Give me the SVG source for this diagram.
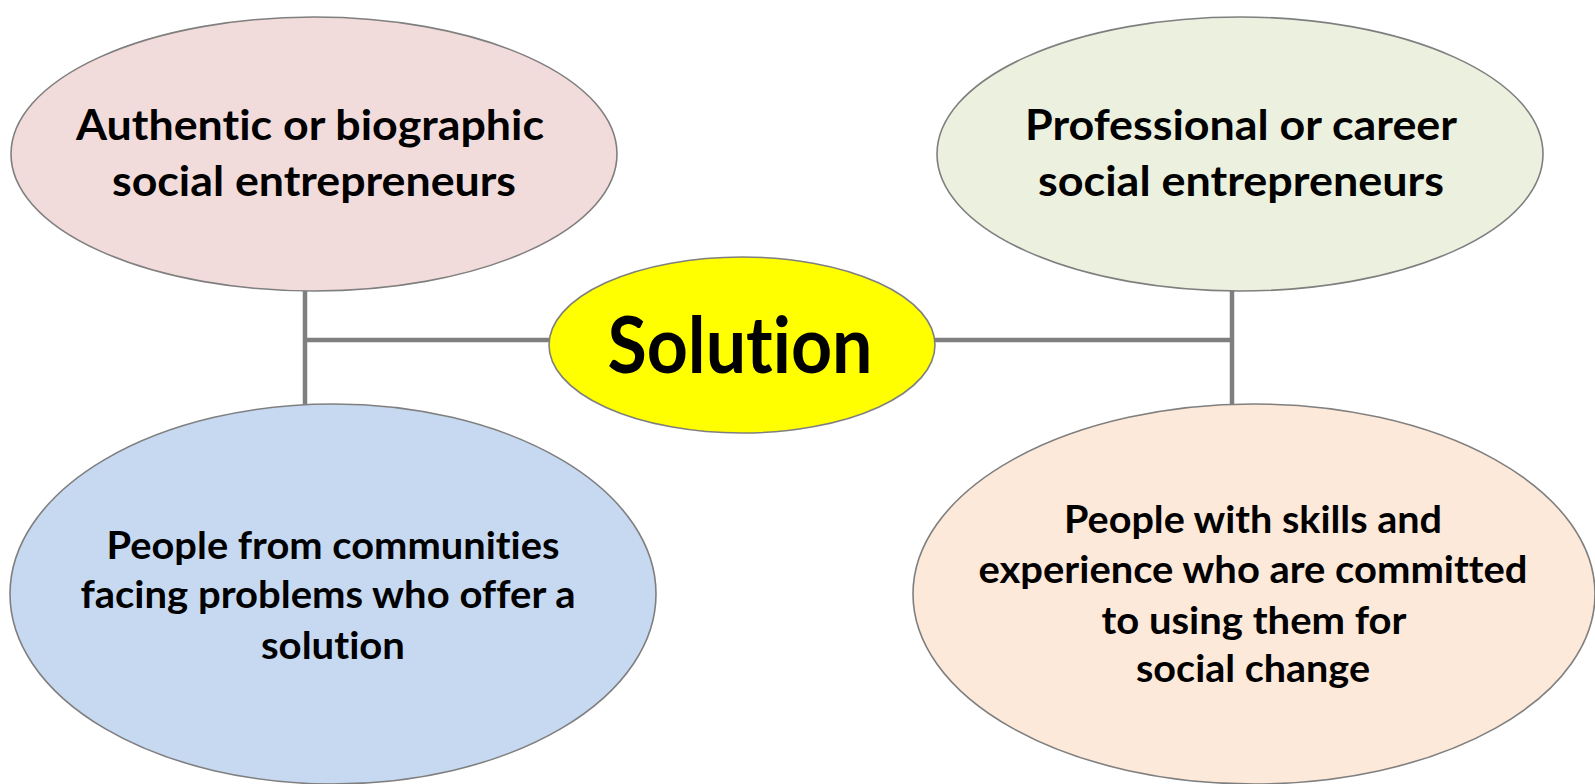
<svg xmlns="http://www.w3.org/2000/svg" width="1595" height="784" viewBox="0 0 1595 784">
<style>
.n{stroke:#7f7f7f;stroke-width:1.6}
.t{font-family:"Lato","Open Sans","Liberation Sans",sans-serif;font-weight:bold;fill:#000;text-anchor:middle;font-variant-ligatures:none;font-feature-settings:"liga" 0}
.big{font-size:42px}
.mid{font-size:38px}
.sol{font-size:78px}
.c{stroke:#7f7f7f;stroke-width:4.5;fill:none}
</style>
<rect width="1595" height="784" fill="#ffffff"/>
<g id="connectors">
<path class="c" d="M305 291 V405 M305 340 H549"/>
<path class="c" d="M1232 291 V405 M935 340 H1232"/>
</g>
<g id="node-authentic">
<ellipse class="n" cx="314" cy="154" rx="303" ry="137" fill="#f2dcdb"/>
<text class="t big" x="310" y="140" textLength="468" lengthAdjust="spacingAndGlyphs">Authentic or biographic</text>
<text class="t big" x="314" y="196" textLength="404" lengthAdjust="spacingAndGlyphs">social entrepreneurs</text>
</g>
<g id="node-professional">
<ellipse class="n" cx="1240" cy="154" rx="303" ry="137" fill="#ebf1de"/>
<text class="t big" x="1241" y="140" textLength="432" lengthAdjust="spacingAndGlyphs">Professional or career</text>
<text class="t big" x="1241" y="196" textLength="406" lengthAdjust="spacingAndGlyphs">social entrepreneurs</text>
</g>
<g id="node-solution">
<ellipse class="n" cx="742" cy="345" rx="193" ry="88" fill="#ffff00"/>
<text class="t sol" x="740" y="373" textLength="265" lengthAdjust="spacingAndGlyphs">Solution</text>
</g>
<g id="node-communities">
<ellipse class="n" cx="333" cy="594" rx="323" ry="190" fill="#c6d9f1"/>
<text class="t mid" x="333" y="559" textLength="453" lengthAdjust="spacingAndGlyphs">People from communities</text>
<text class="t mid" x="328" y="608" textLength="495" lengthAdjust="spacingAndGlyphs">facing problems who offer a</text>
<text class="t mid" x="333" y="659" textLength="144" lengthAdjust="spacingAndGlyphs">solution</text>
</g>
<g id="node-skills">
<ellipse class="n" cx="1254" cy="594" rx="341" ry="190" fill="#fde9d9"/>
<text class="t mid" x="1253" y="533" textLength="378" lengthAdjust="spacingAndGlyphs">People with skills and</text>
<text class="t mid" x="1253" y="583" textLength="549" lengthAdjust="spacingAndGlyphs">experience who are committed</text>
<text class="t mid" x="1254" y="634" textLength="305" lengthAdjust="spacingAndGlyphs">to using them for</text>
<text class="t mid" x="1253" y="682" textLength="234" lengthAdjust="spacingAndGlyphs">social change</text>
</g>
</svg>
